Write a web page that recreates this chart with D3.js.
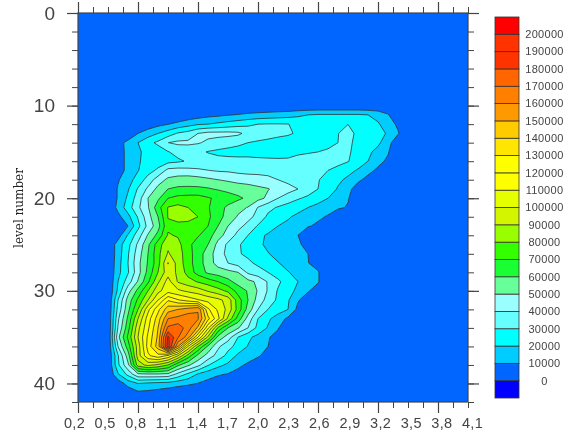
<!DOCTYPE html>
<html><head><meta charset="utf-8">
<script src="https://cdn.jsdelivr.net/npm/d3@7"></script>
<style>html,body{margin:0;padding:0;background:#fff}svg{display:block;filter:blur(0.45px)}</style>
</head><body><svg id="c" width="573" height="439"></svg>
<script>
// Contour levels (thousands) and the fill used for each band, lowest band first
const contourLevels = [0,10,20,30,40,50,60,70,80,90,100,110,120,130,140,150,160,170,180,190,200];
const bandColors = ["#0000FF","#0066FF","#00CCFF","#00FFFF","#66FFFF","#99FFFF","#66FF99","#1AFF33","#33FF00","#99FF00","#D4F500","#E6FF00","#FFFF00","#FFFF00","#FFE600","#FFCC00","#FF9900","#FF8000","#FF6600","#FF3300","#FF3300","#FF0000"];
const xTickLabels = ["0,2","0,5","0,8","1,1","1,4","1,7","2,0","2,3","2,6","2,9","3,2","3,5","3,8","4,1"];
const yTickValues = [0,10,20,30,40];
const yLabel = "level number";
// Grid axes: columns are the x values, rows the level numbers
const gridX = [0.5,0.6,0.7,0.8,0.9,1.0,1.1,1.2,1.3,1.4,1.5,1.6,1.7,1.8,1.9,2.0,2.1,2.2,2.3,2.4,2.5,2.6,2.7,2.8,2.9,3.0,3.1,3.2,3.3,3.4,3.5];
const gridLevels = [10,11,12,13,14,15,16,17,18,19,20,21,22,23,24,25,26,27,28,29,30,31,32,33,34,35,36,37,38,39,40,41,42];
// Values in thousands; columns past the end of a row are 0
const gridValues = [
[0],
[0,0,0,0,0,0,0,0,3,5,7,8,9.5,10.5,12,13,14,15,16,18,20,21,21,21,21,21,20,17,11,0,0],
[0,0,0,1,4,7,9.7,13,16,19,20,22,24,26,28,30,30.5,30.5,30.2,28,28,27,27,26,29.9,27,26,21,15,8,0],
[0,0,2,10,15,20,25,31,34,40,43,43,43,42,37,36,34,32,31,29,28,28,28,29.8,33,28,27,23,19,11,0],
[0,6,13,20,27,32,39.9,42,42,41,38,36,34,32,30,28.5,27.5,27,26.5,26,26,27,28,30,33,26,24,22,14,2,0],
[0,5,13,19,22,25,29.5,33,34,32,29.5,28,27,26.5,26.5,26,26,26.5,28,29,29.6,30,31,33,32,25,22,17,11,0,0],
[0,5,13,19,23,25,27,28.5,31,33.5,34,33,33,33,33,32.5,32,31.5,31,32,32,33,34,33,30.5,25,20,13,8,0,0],
[0,5,13,19.5,26,32,43,44,43,41.5,40.2,39,38.5,37,36,36,36,35,34,34,33,33,30,27,23,19,13,8,0,0,0],
[0,9,16,24,34,45,52,54,55,54,52,50,48.5,47,46,45,43,40,37,34,33,30.5,27,22,18,12,7,0],
[0,11,19,31,42,53,60,62,62,62,61,59,57,55,54,52,50.5,47,44,40,35,30,26,19,13,5,0],
[0,11,22,35,50,58,70,73,74,74,71,68,65,62,58,53,48,40,35,31,28,24,20,15,11,0],
[0,13,25,38,49,66,80.5,83,80,76,71,64,58,53,49.5,39.5,33,29,26,23,20,17,14,12,9,0],
[0,7,17,31,46,60,80.5,84,84,80,72,64,56,49,43,37,28,24,21,18,15,12,9,0],
[0,3,10,27,43,56,78,77,76,74,70,60,50,43,37,29,24,20,18,15,11,8,0],
[0,5,21,35,51,63,81,79,76,71,65,54,46,37,30,22,19,17,13,10,0],
[0,15,27,42,58,75,88,83,73,65,60,47,38,31,27,22,18,16,13,11,8,0],
[0,15,29,45,60,77,91,85,74,65,55,45,37,31,28,25,20.5,17,14,12,10,0],
[0,16,30,47,61,76,100.5,86,74,65,55,46,40,36,32,28,24,20.5,17,14,10.3,6,0],
[0,17,29,46,63,80,96,88,76,66,58,55,53,50,38,34,30,25,20.5,17,14,11,0],
[0,20,35,51,68,88,104,89,84,79,75,70,63,56,53,48,39,32,25,20,15,11,0],
[0,22,46,63,80,97,106,102,98,95,89,84,78,66,59,49,39,29,23,18,11,5,0],
[0,30,54,72,90,110,129,121,116,111,107,103,96,75,60,46,36,28,21,11,4,0],
[0,33,57,80,107,127,146,150,155,159.5,122,108,97,76,56,40,30,25,20,7,0],
[0,38,62,90,115,135,160,163,166,161,133,113,88,66,46,30,22,15,8,0],
[0,41,66,97,118,140,172,176,165,148,112,78,60,51,40,27,19,11,0],
[0,47,72,100,122,142,192,171,155,120,88,57,45,30,22,17,11,6,0],
[0,40,65,95,124,145,195,150,110,80,58,42,33,27,19.5,15,10,4,0],
[0,29,55,95,118,127,118,100,76,57,46,36,27,18,14,11,7,0],
[0,28,48,85,93,88,80,62,52,43,31,23,18,12,8.5,5,0],
[0,19,33,48,49,49,48,37,28,19,14,11,9.5,7,4,2,0],
[0,4,14,20,18,17,16,14,12,9.7,7,5,3,1,0],
[0,0,3,8,7.5,6,4,2,1,0],
[0]
];

const svg = d3.select("#c");
const box = {l:78,r:468,t:13,b:402};
const X = d3.scaleLinear().domain([0.2,4.1]).range([box.l,box.r]);
const Y = d3.scaleLinear().domain([0,42]).range([box.t,box.b]);
const nC = gridX.length, nR = gridLevels.length;
const flat = gridValues.flatMap(r => gridX.map((_, i) => r[i] === undefined ? 0 : r[i]));
const gx = d3.scaleLinear().domain([0.5, nC-0.5]).range([gridX[0], gridX[nC-1]]);
const gy = d3.scaleLinear().domain([0.5, nR-0.5]).range([gridLevels[0], gridLevels[nR-1]]);
const path = d3.geoPath(d3.geoTransform({point(a,b){this.stream.point(X(gx(a)),Y(gy(b)));}}));

// background band (0–10000)
svg.append("rect").attr("x",X(0.2)).attr("y",Y(0)).attr("width",X(4.1)-X(0.2)).attr("height",Y(42)-Y(0)).attr("fill",bandColors[1]);
const levels = contourLevels.slice(1);
const gen = d3.contours().size([nC,nR]).smooth(true);
const plot = svg.append("g");
levels.forEach((lv,i)=>{
  const c = gen.contour(flat, lv);
  if(!c.coordinates.length) return;
  plot.append("path").attr("d",path(c)).attr("fill",bandColors[i+2]).attr("stroke","#333").attr("stroke-width",0.8).attr("stroke-linejoin","round");
});

// frame
svg.append("rect").attr("x",X(0.2)).attr("y",Y(0)).attr("width",X(4.1)-X(0.2)).attr("height",Y(42)-Y(0)).attr("fill","none").attr("stroke","#444").attr("stroke-width",1.2);

const xMinor = d3.range(0,27).map(i=>0.2+i*0.15), xMajor = d3.range(0,7).map(i=>0.2+i*0.6);
const yMinor = d3.range(0,43,2);
function ticks(axisFn, scale, vals, size, tx, ty, sw){
  const g = svg.append("g").attr("transform",`translate(${tx},${ty})`)
    .call(axisFn(scale).tickValues(vals).tickSize(size).tickSizeOuter(0).tickFormat(""));
  g.select(".domain").remove();
  g.selectAll("line").attr("stroke","#444").attr("stroke-width",sw);
}
[[d3.axisBottom,box.b],[d3.axisTop,box.t]].forEach(([f,t])=>{
  ticks(f,X,xMinor,6,0,t,1); ticks(f,X,xMajor,11,0,t,1.2);
});
[[d3.axisLeft,box.l],[d3.axisRight,box.r]].forEach(([f,l])=>{
  ticks(f,Y,yMinor,6,l,0,1); ticks(f,Y,yTickValues,11,l,0,1.2);
});

// tick labels sit on their own evenly spaced band, slightly wider than the frame
const xLabelPos = d3.scalePoint().domain(xTickLabels).range([74,472]);
const xl = svg.append("g").attr("transform",`translate(0,${box.b})`)
  .call(d3.axisBottom(xLabelPos).tickSize(0).tickPadding(16));
xl.select(".domain").remove();
xl.selectAll("text").attr("font-family","'Liberation Sans'").attr("font-size",14.5).attr("fill","#444").attr("letter-spacing",0.3);
const yl = svg.append("g").attr("transform",`translate(${box.l},0)`)
  .call(d3.axisLeft(Y).tickValues(yTickValues).tickSize(0).tickPadding(23).tickFormat(d3.format("d")));
yl.select(".domain").remove();
yl.selectAll("text").attr("font-family","'Liberation Sans'").attr("font-size",19).attr("fill","#444");
svg.append("text").attr("transform",`translate(23,208) rotate(-90)`).attr("text-anchor","middle")
  .attr("font-family","'DejaVu Serif'").attr("font-size",12).attr("fill","#222").text(yLabel);

// colour bar
const barTop = 17, barBottom = 398, nBands = bandColors.length;
const barY = d3.scaleBand().domain(d3.range(nBands)).range([barBottom,barTop]);
const bar = svg.append("g");
bar.selectAll("rect").data(bandColors).join("rect")
  .attr("x",495).attr("width",24).attr("y",(d,i)=>barY(i)).attr("height",barY.bandwidth())
  .attr("fill",d=>d).attr("stroke","#333").attr("stroke-width",0.8);
bar.selectAll("text").data(contourLevels).join("text")
  .attr("x",544.5).attr("y",(d,i)=>barY(i)).attr("dy","0.35em").attr("text-anchor","middle")
  .attr("font-family","'Liberation Sans'").attr("font-size",11).attr("letter-spacing",0.3).attr("fill","#444")
  .text(d=>d*1000);
</script></body></html>
